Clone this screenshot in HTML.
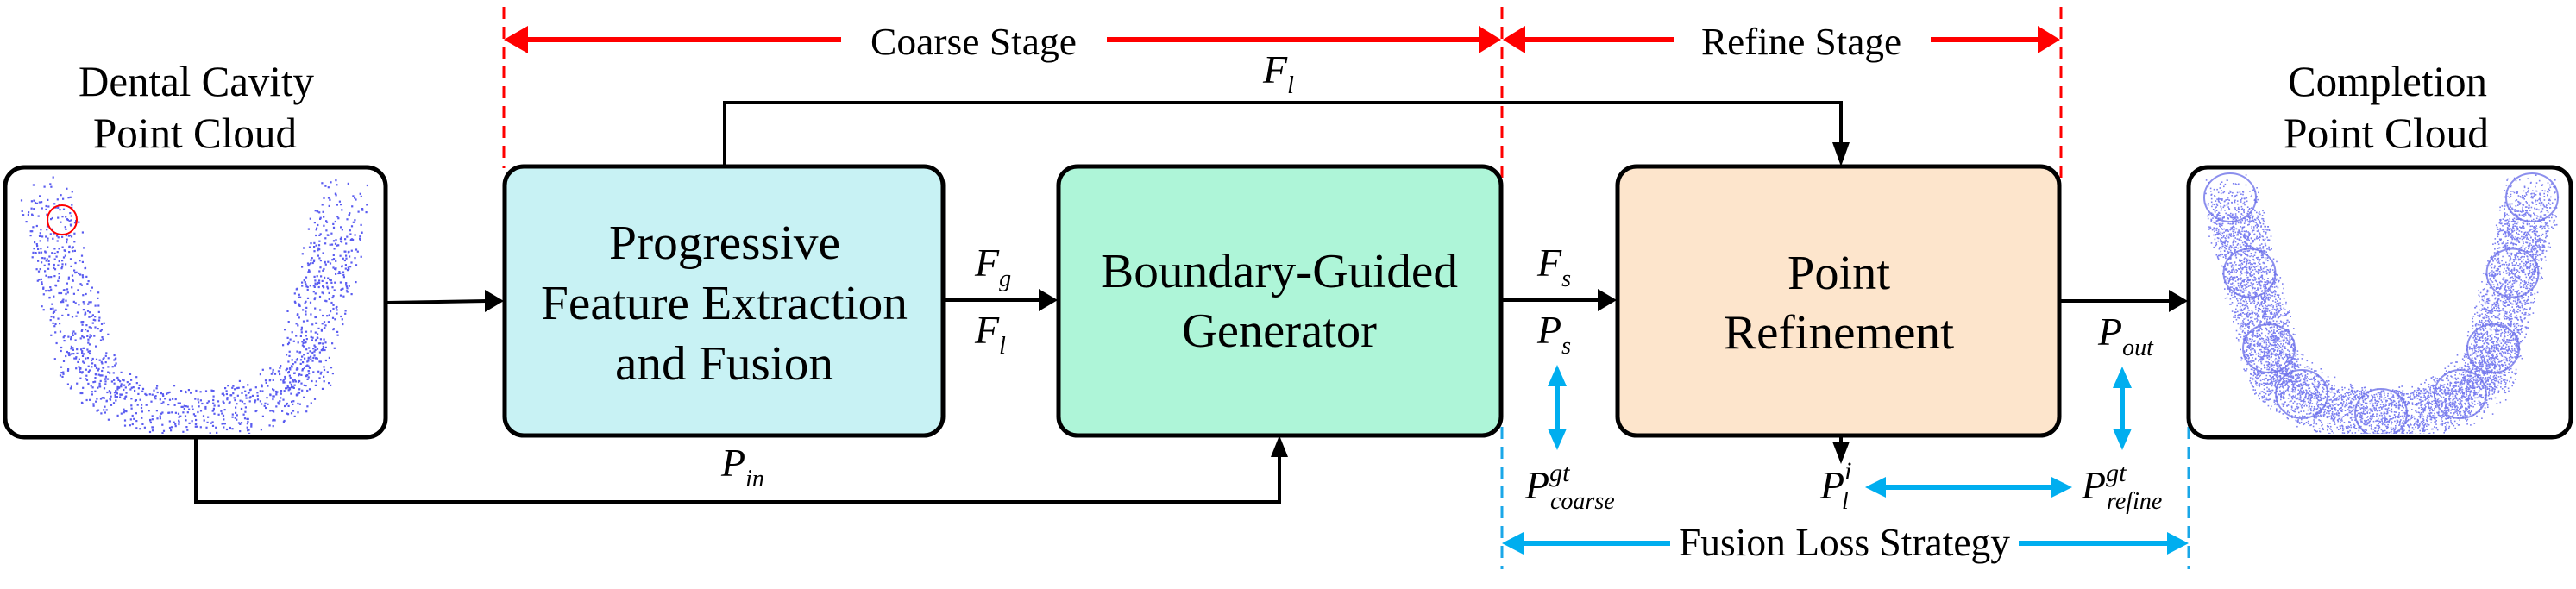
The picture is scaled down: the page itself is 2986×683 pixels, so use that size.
<!DOCTYPE html>
<html><head><meta charset="utf-8"><style>
html,body{margin:0;padding:0;background:#fff;}
svg{display:block;}
svg text{font-family:"Liberation Serif","DejaVu Serif","Noto Serif CJK SC",serif !important;}
</style></head><body>
<svg id="s" width="2986" height="683" viewBox="0 0 2986 683" xmlns="http://www.w3.org/2000/svg" style="font-family:'Liberation Serif','DejaVu Serif',serif">
<defs>
<clipPath id="c1"><rect x="10" y="198" width="433" height="305" rx="20"/></clipPath>
<clipPath id="c2"><rect x="2541" y="198" width="435" height="305" rx="20"/></clipPath>
</defs>
<g stroke="#f00" stroke-width="3" stroke-dasharray="14,9">
<line x1="584" y1="8" x2="584" y2="195"/>
<line x1="1741" y1="8" x2="1741" y2="210"/>
<line x1="2389" y1="8" x2="2389" y2="210"/>
</g>
<g stroke="#1aa7e8" stroke-width="3" stroke-dasharray="14,9">
<line x1="1741" y1="495" x2="1741" y2="660"/>
<line x1="2537" y1="495" x2="2537" y2="660"/>
</g>
<g stroke="#f00" stroke-width="6" fill="#f00">
<line x1="600" y1="46" x2="975" y2="46"/>
<line x1="1283" y1="46" x2="1722" y2="46"/>
<line x1="1760" y1="46" x2="1940" y2="46"/>
<line x1="2238" y1="46" x2="2370" y2="46"/>
</g>
<g fill="#f00">
<path d="M584,46 L612,30 L612,62 z"/>
<path d="M1740,46 L1714,30 L1714,62 z"/>
<path d="M1742,46 L1768,30 L1768,62 z"/>
<path d="M2388,46 L2362,30 L2362,62 z"/>
</g>
<g fill="#000">
<text x="1009" y="63" font-size="44" textLength="239" lengthAdjust="spacingAndGlyphs">Coarse Stage</text>
<text x="1972" y="63" font-size="44" textLength="232" lengthAdjust="spacingAndGlyphs">Refine Stage</text>
<text x="91" y="111" font-size="50" textLength="273" lengthAdjust="spacingAndGlyphs">Dental Cavity</text>
<text x="108" y="171" font-size="50" textLength="236" lengthAdjust="spacingAndGlyphs">Point Cloud</text>
<text x="2652" y="111" font-size="50" textLength="231" lengthAdjust="spacingAndGlyphs">Completion</text>
<text x="2647" y="171" font-size="50" textLength="238" lengthAdjust="spacingAndGlyphs">Point Cloud</text>
</g>
<g stroke="#000" stroke-width="4" fill="none">
<polyline points="840,192 840,119 2134,119 2134,172"/>
<line x1="448" y1="351" x2="565" y2="349"/>
<line x1="1093" y1="348" x2="1207" y2="348"/>
<line x1="1741" y1="348" x2="1855" y2="348"/>
<line x1="2387" y1="349" x2="2517" y2="349"/>
<polyline points="227,507 227,582 1483,582 1483,525"/>
<line x1="2134" y1="505" x2="2134" y2="515"/>
</g>
<g fill="#000">
<path d="M2134,193 L2124,165 L2144,165 z"/>
<path d="M584,349 L562,336 L562,362 z"/>
<path d="M1226,348 L1204,335 L1204,361 z"/>
<path d="M1874,348 L1852,335 L1852,361 z"/>
<path d="M2536,349 L2514,336 L2514,362 z"/>
<path d="M1483,505 L1473,530 L1493,530 z"/>
<path d="M2134,538 L2124,512 L2144,512 z"/>
</g>
<g stroke="#00aeef" stroke-width="6">
<line x1="1805" y1="445" x2="1805" y2="502"/>
<line x1="2460" y1="445" x2="2460" y2="502"/>
<line x1="2180" y1="565" x2="2386" y2="565"/>
<line x1="1760" y1="630" x2="1936" y2="630"/>
<line x1="2340" y1="630" x2="2518" y2="630"/>
</g>
<g fill="#00aeef">
<path d="M1805,423 L1794,448 L1816,448 z"/>
<path d="M1805,522 L1794,497 L1816,497 z"/>
<path d="M2460,425 L2449,450 L2471,450 z"/>
<path d="M2460,522 L2449,497 L2471,497 z"/>
<path d="M2162,565 L2186,553 L2186,577 z"/>
<path d="M2402,565 L2378,553 L2378,577 z"/>
<path d="M1741,630 L1766,617 L1766,643 z"/>
<path d="M2537,630 L2512,617 L2512,643 z"/>
</g>
<text x="1946" y="644" font-size="46" textLength="384" lengthAdjust="spacingAndGlyphs">Fusion Loss Strategy</text>
<rect x="6" y="194" width="441" height="313" rx="22" fill="#fff" stroke="#000" stroke-width="5"/>
<rect x="585" y="193" width="508" height="312" rx="22" fill="#c8f2f4" stroke="#000" stroke-width="5"/>
<rect x="1227" y="193" width="513" height="312" rx="22" fill="#aef5d8" stroke="#000" stroke-width="5"/>
<rect x="1875" y="193" width="512" height="312" rx="22" fill="#fde5cc" stroke="#000" stroke-width="5"/>
<rect x="2537" y="194" width="443" height="313" rx="22" fill="#fff" stroke="#000" stroke-width="5"/>
<g fill="#000" font-size="56">
<text x="706" y="300" textLength="268" lengthAdjust="spacingAndGlyphs">Progressive</text>
<text x="627" y="370" textLength="425" lengthAdjust="spacingAndGlyphs">Feature Extraction</text>
<text x="713" y="440" textLength="253" lengthAdjust="spacingAndGlyphs">and Fusion</text>
<text x="1276" y="333" textLength="414" lengthAdjust="spacingAndGlyphs">Boundary-Guided</text>
<text x="1370" y="402" textLength="226" lengthAdjust="spacingAndGlyphs">Generator</text>
<text x="2072" y="335" textLength="119" lengthAdjust="spacingAndGlyphs">Point</text>
<text x="1998" y="404" textLength="267" lengthAdjust="spacingAndGlyphs">Refinement</text>
</g>
<g font-style="italic" font-size="46" fill="#000">
<text x="1464" y="96">F<tspan font-size="28" dy="12">l</tspan></text>
<text x="1130" y="320">F<tspan font-size="28" dy="12">g</tspan></text>
<text x="1130" y="398">F<tspan font-size="28" dy="12">l</tspan></text>
<text x="1782" y="320">F<tspan font-size="28" dy="12">s</tspan></text>
<text x="1782" y="398">P<tspan font-size="28" dy="12">s</tspan></text>
<text x="2432" y="400">P<tspan font-size="28" dy="12">out</tspan></text>
<text x="836" y="552">P<tspan font-size="28" dy="12">in</tspan></text>
<text x="1768" y="578">P<tspan font-size="30" dy="-20">gt</tspan><tspan font-size="28" x="1797" dy="32">coarse</tspan></text>
<text x="2110" y="578">P<tspan font-size="30" dy="-22">i</tspan><tspan font-size="28" x="2135" dy="34">l</tspan></text>
<text x="2413" y="578">P<tspan font-size="30" dy="-20">gt</tspan><tspan font-size="28" x="2442" dy="32">refine</tspan></text>
</g>
<g id="pc1" clip-path="url(#c1)"></g>
<g id="pc2" clip-path="url(#c2)"></g>
<circle cx="72" cy="255" r="17" fill="none" stroke="#f00" stroke-width="2"/>
</svg>
<script>
(function(){
var seed=7;function r(){seed=(seed*16807)%2147483647;return seed/2147483647;}
function c(ox,oy,t){
  var x,y;
  if(t<0.25){var s=t/0.25;x=ox+45+s*45;y=oy+35+s*175;}
  else if(t>0.75){var s=(t-0.75)/0.25;x=ox+350+s*45;y=oy+210-s*175;}
  else{var s=(t-0.25)/0.5;var ang=Math.PI*s;x=ox+220-130*Math.cos(ang);y=oy+210+75*Math.sin(ang);}
  return [x,y];
}
function U(g,ox,oy,n,size,col,outlines){
  var G=document.getElementById(g);var h="";
  for(var i=0;i<n;i++){var t=r();var p=c(ox,oy,t);var w=30;
    var x=p[0]+(r()-0.5)*2*w, y=p[1]+(r()-0.5)*2*w*0.9;
    h+='<rect x="'+x.toFixed(1)+'" y="'+y.toFixed(1)+'" width="'+size+'" height="'+size+'" fill="'+col+'"/>';}
  if(outlines){for(var k=0;k<9;k++){var t=k/8;var p=c(ox,oy,t);
    h+='<ellipse cx="'+p[0].toFixed(1)+'" cy="'+p[1].toFixed(1)+'" rx="30" ry="28" fill="none" stroke="#6f73e8" stroke-width="2" opacity="0.8"/>';}}
  G.innerHTML=h;
}
U("pc1",6,194,1400,2.2,"#5a5cf0",false);
U("pc2",2540,194,7000,1.6,"#7a7ef0",true);
})();
</script>
</body></html>
